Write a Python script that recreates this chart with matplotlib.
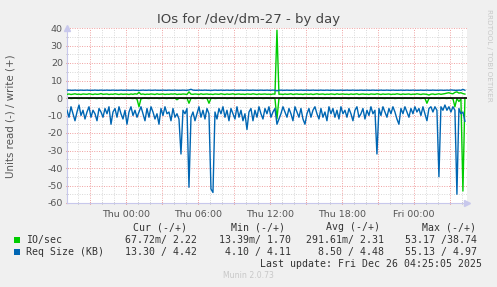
import numpy as np
import matplotlib.pyplot as plt
from matplotlib.ticker import MultipleLocator, FuncFormatter
from matplotlib.patches import Rectangle

plt.rcParams['axes.unicode_minus'] = False

# sample times: hours relative to Thu 00:00, one sample every 10 minutes
t_start = -4.92
t_end = 28.42
n_samples = 200

# IO/sec, write (+)
io_write = [
    2.1, 2.3, 2.0, 2.2, 2.4, 2.1, 2.2, 2.0, 2.3, 2.2, 2.1, 2.4, 2.2, 2.0, 2.3, 2.1, 2.2, 2.5, 2.1, 2.2,
    2.3, 2.0, 2.2, 2.1, 2.4, 2.2, 2.0, 2.3, 2.1, 2.2, 2.2, 2.0, 2.3, 2.1, 2.4, 2.2, 3.2, 2.1, 2.3, 2.0,
    2.2, 2.1, 2.3, 2.2, 2.0, 2.4, 2.1, 2.2, 2.3, 2.0, 2.2, 2.1, 2.3, 2.2, 2.4, 2.0, 2.2, 2.1, 2.3, 2.2,
    2.0, 3.5, 2.2, 2.1, 2.3, 2.2, 2.0, 2.4, 2.1, 2.2, 2.3, 2.1, 2.2, 2.0, 2.3, 2.2, 2.1, 2.4, 2.2, 2.0,
    2.3, 2.1, 2.2, 2.4, 2.0, 2.2, 2.3, 2.1, 2.2, 2.0, 2.3, 2.2, 2.1, 2.4, 2.2, 2.0, 2.3, 2.1, 2.2, 2.3,
    2.1, 2.2, 2.0, 2.3, 2.2, 38.74, 2.1, 2.2, 2.0, 2.3, 2.1, 2.2, 2.4, 2.0, 2.2, 2.3, 2.1, 2.2, 2.0, 2.3,
    2.2, 2.1, 2.3, 2.0, 2.2, 2.4, 2.1, 2.2, 2.3, 2.0, 2.2, 2.1, 2.3, 2.2, 2.0, 2.4, 2.1, 2.2, 2.3, 2.1,
    2.2, 2.0, 2.3, 2.1, 2.2, 2.4, 2.0, 2.2, 2.3, 2.1, 2.2, 2.0, 2.3, 2.2, 2.1, 2.4, 2.2, 2.0, 2.3, 2.1,
    2.2, 2.3, 2.0, 2.2, 2.1, 2.4, 2.2, 2.0, 2.3, 2.1, 2.2, 2.3, 2.0, 2.2, 2.1, 2.4, 2.2, 2.0, 2.3, 2.2,
    2.1, 1.7, 2.2, 2.3, 2.0, 2.2, 2.4, 2.1, 2.3, 2.5, 2.8, 3.0, 2.6, 2.4, 3.2, 3.5, 2.8, 3.0, 2.5, 2.22,
]

# IO/sec, read (-)
io_read = [
    0.2, 0.1, 0.3, 0.2, 0.1, 0.2, 0.3, 0.1, 0.2, 0.2, 0.1, 0.3, 0.2, 0.1, 0.2, 0.3, 0.1, 0.2, 0.2, 0.1,
    0.3, 0.2, 0.1, 0.2, 0.3, 0.1, 0.2, 0.2, 0.1, 0.3, 0.2, 0.1, 0.2, 0.3, 0.1, 0.6, 5.0, 0.4, 0.2, 0.1,
    0.2, 0.3, 0.1, 0.2, 0.2, 0.1, 0.3, 0.2, 0.1, 0.2, 0.3, 0.1, 0.2, 0.2, 0.1, 1.0, 0.2, 0.1, 0.2, 0.3,
    0.1, 3.0, 0.2, 0.1, 0.3, 0.2, 0.1, 0.2, 0.3, 0.1, 0.2, 3.0, 0.2, 0.1, 0.3, 0.2, 0.1, 0.2, 0.2, 0.1,
    0.3, 0.2, 0.1, 0.2, 0.3, 0.1, 0.2, 0.2, 0.1, 0.3, 0.2, 0.1, 0.2, 0.3, 0.1, 0.2, 0.2, 0.1, 0.3, 0.2,
    0.1, 0.2, 0.3, 0.1, 0.4, 12.0, 0.3, 0.2, 0.1, 0.2, 0.3, 0.1, 0.2, 0.2, 0.1, 0.3, 0.2, 0.1, 0.2, 0.3,
    0.2, 0.1, 0.2, 0.3, 0.1, 0.2, 0.2, 0.1, 0.3, 0.2, 0.1, 0.2, 0.3, 0.1, 0.2, 0.2, 0.1, 0.3, 0.2, 0.1,
    0.2, 0.3, 0.1, 0.2, 0.2, 0.1, 0.3, 0.2, 0.1, 0.2, 0.3, 0.1, 0.2, 0.2, 0.1, 0.3, 0.2, 0.1, 0.2, 0.3,
    0.1, 0.2, 0.2, 0.1, 0.3, 0.2, 0.1, 0.2, 0.3, 0.1, 0.2, 0.2, 0.1, 0.3, 0.2, 0.1, 0.2, 0.3, 0.1, 0.2,
    3.0, 0.3, 0.1, 0.2, 0.2, 0.1, 0.3, 0.2, 0.1, 0.2, 0.3, 0.1, 0.2, 0.4, 5.0, 0.3, 2.0, 0.5, 53.17, 0.068,
]

# Req Size (KB), write (+)
req_write = [
    4.4, 4.5, 4.4, 4.4, 4.5, 4.4, 4.4, 4.5, 4.4, 4.4, 4.5, 4.4, 4.4, 4.4, 4.5, 4.4, 4.4, 4.5, 4.4, 4.4,
    4.5, 4.4, 4.4, 4.5, 4.4, 4.4, 4.4, 4.5, 4.4, 4.4, 4.5, 4.4, 4.4, 4.5, 4.4, 4.4, 4.3, 4.4, 4.5, 4.4,
    4.4, 4.5, 4.4, 4.4, 4.5, 4.4, 4.4, 4.4, 4.5, 4.4, 4.4, 4.5, 4.4, 4.4, 4.5, 4.4, 4.4, 4.4, 4.5, 4.4,
    4.4, 4.6, 4.97, 4.5, 4.4, 4.4, 4.5, 4.4, 4.4, 4.5, 4.4, 4.4, 4.3, 4.4, 4.5, 4.4, 4.4, 4.5, 4.4, 4.4,
    4.5, 4.4, 4.4, 4.5, 4.4, 4.4, 4.4, 4.5, 4.4, 4.4, 4.5, 4.4, 4.4, 4.5, 4.4, 4.4, 4.4, 4.5, 4.4, 4.4,
    4.5, 4.4, 4.4, 4.5, 4.4, 4.11, 4.4, 4.5, 4.4, 4.4, 4.5, 4.4, 4.4, 4.4, 4.5, 4.4, 4.4, 4.5, 4.4, 4.4,
    4.5, 4.4, 4.4, 4.5, 4.4, 4.4, 4.4, 4.5, 4.4, 4.4, 4.5, 4.4, 4.4, 4.5, 4.4, 4.4, 4.4, 4.5, 4.4, 4.4,
    4.5, 4.4, 4.4, 4.5, 4.4, 4.4, 4.4, 4.5, 4.4, 4.4, 4.5, 4.4, 4.4, 4.5, 4.4, 4.4, 4.4, 4.5, 4.4, 4.4,
    4.5, 4.4, 4.4, 4.5, 4.4, 4.4, 4.4, 4.5, 4.4, 4.4, 4.5, 4.4, 4.4, 4.5, 4.4, 4.4, 4.4, 4.5, 4.4, 4.4,
    4.5, 4.4, 4.4, 4.5, 4.4, 4.4, 4.4, 4.5, 4.4, 4.4, 4.5, 4.4, 4.6, 4.5, 4.4, 4.4, 4.5, 4.4, 4.9, 4.42,
]

# Req Size (KB), read (-)
req_read = [
    7, 11, 5, 9, 13, 8, 4, 10, 7, 12, 8, 5, 11, 7, 9, 13, 6, 8, 11, 6,
    9, 5, 15, 8, 6, 11, 5, 9, 12, 7, 15, 8, 5, 10, 7, 11, 8, 5, 9, 13,
    6, 11, 5, 8, 12, 9, 15, 6, 10, 5, 9, 8, 13, 6, 11, 9, 12, 32, 7, 9,
    6, 51, 11, 8, 13, 9, 5, 11, 7, 12, 6, 9, 52, 54, 8, 12, 6, 9, 5, 11,
    7, 13, 6, 9, 12, 5, 11, 7, 13, 9, 18, 8, 6, 13, 7, 11, 5, 9, 12, 6,
    9, 5, 11, 8, 6, 15, 12, 9, 5, 8, 11, 6, 9, 13, 5, 8, 11, 6, 12, 15,
    9, 6, 11, 7, 5, 9, 12, 6, 11, 8, 13, 5, 9, 6, 11, 7, 12, 5, 9, 7,
    11, 6, 9, 13, 7, 5, 11, 9, 6, 12, 7, 10, 5, 9, 7, 32, 6, 10, 5, 8,
    11, 6, 9, 5, 8, 12, 15, 6, 9, 5, 8, 11, 6, 9, 5, 8, 6, 10, 5, 9,
    13, 6, 5, 8, 5, 7, 45, 5, 7, 4, 7, 5, 8, 5, 7, 55, 6, 9, 8, 13.3,
]

tick_hours = [0, 6, 12, 18, 24]
tick_labels = ['Thu 00:00', 'Thu 06:00', 'Thu 12:00', 'Thu 18:00', 'Fri 00:00']

legend_rows = [
    ('IO/sec', '#00cc00', '67.72m/ 2.22', '13.39m/ 1.70', '291.61m/ 2.31', '53.17 /38.74'),
    ('Req Size (KB)', '#0066b3', '13.30 / 4.42', '4.10 / 4.11', '8.50 / 4.48', '55.13 / 4.97'),
]

W, H = 497, 287
hours = t_start + np.arange(n_samples) / 6.0


def fx(x):
    return x / W


def fy(y):
    return 1 - y / H


fig = plt.figure(figsize=(W / 100, H / 100), dpi=100, facecolor='#f0f0f0')
ax = fig.add_axes([fx(67), fy(203), 400 / W, 175 / H])
ax.set_facecolor('white')

green = '#00cc00'
blue = '#0066b3'
lw = 1.0
ax.plot(hours, -np.array(io_read), color=green, lw=lw, zorder=2)
ax.axhline(0, color='black', lw=1.2, zorder=2.5)
ax.plot(hours, io_write, color=green, lw=lw, zorder=3)
ax.plot(hours, req_write, color=blue, lw=lw, zorder=3)
ax.plot(hours, -np.array(req_read), color=blue, lw=lw, zorder=3)

ax.set_xlim(t_start, t_end)
ax.set_ylim(-60, 40)

# grid: red dotted majors, gray dotted minors
ax.xaxis.set_major_locator(MultipleLocator(3))
ax.xaxis.set_minor_locator(MultipleLocator(1))
ax.yaxis.set_major_locator(MultipleLocator(10))
ax.yaxis.set_minor_locator(MultipleLocator(5))
ax.xaxis.set_major_formatter(FuncFormatter(
    lambda v, p: tick_labels[tick_hours.index(int(round(v)))] if int(round(v)) in tick_hours and abs(v - round(v)) < 1e-6 else ''))
ax.grid(which='minor', color='#d8d8d8', lw=0.7, ls=(0, (1, 1.5)), zorder=0)
ax.grid(which='major', color='#f0a0a0', lw=0.7, ls=(0, (1, 1.5)), zorder=0.5)

for s in ['top', 'right']:
    ax.spines[s].set_visible(False)
for s in ['left', 'bottom']:
    ax.spines[s].set_color('#c8c8ec')
    ax.spines[s].set_linewidth(0.8)
ax.plot(0, 1.0, marker='^', color='#c8c8ec', ms=4, transform=ax.transAxes, clip_on=False)
ax.plot(1.0, 0, marker='>', color='#c8c8ec', ms=4, transform=ax.transAxes, clip_on=False)

ax.tick_params(axis='both', which='major', labelsize=6.8, labelcolor='#555555', length=2,
               direction='inout', color='#e07070', pad=2)
ax.tick_params(axis='both', which='minor', length=1.5, direction='inout', color='#aaaaaa')
ax.tick_params(axis='x', which='major', pad=4)

fig.text(fx(249), fy(19), 'IOs for /dev/dm-27 - by day', ha='center', va='center',
         fontsize=9.5, color='#444444')
fig.text(fx(11), fy(116), 'Units read (-) / write (+)', rotation=90, ha='center', va='center',
         fontsize=7.4, color='#555555')
fig.text(fx(489), fy(55), 'RRDTOOL / TOBI OETIKER', rotation=270, ha='center', va='center',
         fontsize=5.2, color='#c8c8c8')
fig.text(fx(248), fy(276), 'Munin 2.0.73', ha='center', va='center', fontsize=5.6, color='#c8c8c8')

mono = dict(family='DejaVu Sans Mono', fontsize=7.1, color='#333333', va='center')
col_right = [197, 291, 384, 477]
headers = ['Cur (-/+)', 'Min (-/+)', 'Avg (-/+)', 'Max (-/+)']
header_right = [187, 285, 380, 476]
for h, xr in zip(headers, header_right):
    fig.text(fx(xr), fy(227), h, ha='right', **mono)
for k, row in enumerate(legend_rows):
    y = 240 + k * 12
    name, color = row[0], row[1]
    fig.patches.append(Rectangle((fx(14), fy(y + 3)), 6 / W, 6 / H, transform=fig.transFigure,
                                 facecolor=color, edgecolor='none'))
    fig.text(fx(26), fy(y), name, ha='left', **mono)
    for v, xr in zip(row[2:], col_right):
        fig.text(fx(xr), fy(y), v, ha='right', **mono)
fig.text(fx(482), fy(264), 'Last update: Fri Dec 26 04:25:05 2025', ha='right', **mono)

fig.savefig('out.png', dpi=100, facecolor=fig.get_facecolor())
